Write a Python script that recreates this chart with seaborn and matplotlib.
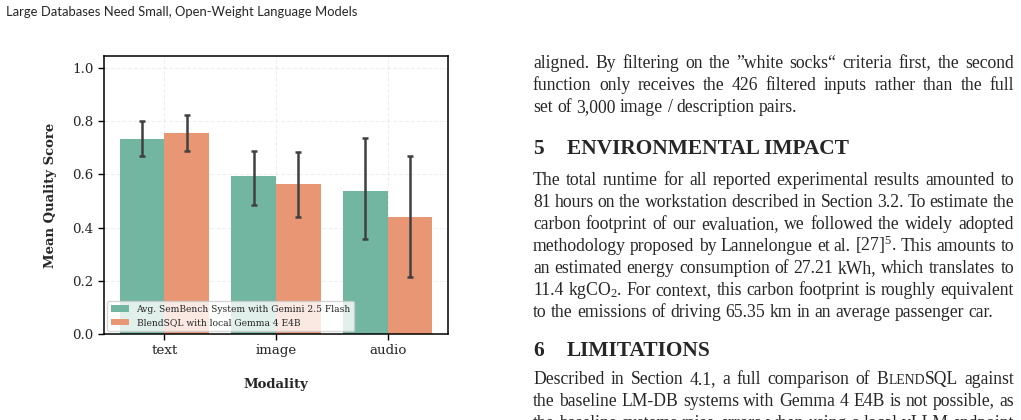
import matplotlib
matplotlib.use("Agg")
import matplotlib.pyplot as plt
import seaborn as sns
import pandas as pd

# chart data
modalities = ["text", "image", "audio"]
systems = ["Avg. SemBench System with Gemini 2.5 Flash", "BlendSQL with local Gemma 4 E4B"]
sembench_mean = [0.734, 0.595, 0.539]
sembench_low = [0.668, 0.485, 0.358]
sembench_high = [0.802, 0.689, 0.736]
blendsql_mean = [0.757, 0.565, 0.441]
blendsql_low = [0.687, 0.439, 0.213]
blendsql_high = [0.823, 0.685, 0.670]

# page text around the figure
header = "Large Databases Need Small, Open-Weight Language Models"
para_1 = [
    "aligned. By filtering on the \u201dwhite socks\u201c criteria first, the second",
    "function only receives the 426 filtered inputs rather than the full",
    "set of 3,000 image / description pairs.",
]
heading_5 = ("5", "ENVIRONMENTAL IMPACT")
para_2 = [
    "The total runtime for all reported experimental results amounted to",
    "81 hours on the workstation described in Section 3.2. To estimate the",
    "carbon footprint of our evaluation, we followed the widely adopted",
    "methodology proposed by Lannelongue et al. [27]$^{5}$. This amounts to",
    "an estimated energy consumption of 27.21 kWh, which translates to",
    "11.4 kgCO$_{2}$. For context, this carbon footprint is roughly equivalent",
    "to the emissions of driving 65.35 km in an average passenger car.",
]
heading_6 = ("6", "LIMITATIONS")
para_3 = [
    "Described in Section 4.1, a full comparison of BLENDSQL against",
    "the baseline LM-DB systems with Gemma 4 E4B is not possible, as",
    "the baseline systems raise errors when using a local vLLM endpoint",
]

W, H = 1021, 420
BODY = "Liberation Serif"
BODY_SIZE = 12.7

sns.set_style("ticks")
plt.rcParams["font.family"] = ["DejaVu Serif"]
plt.rcParams["mathtext.fontset"] = "custom"
plt.rcParams["mathtext.rm"] = BODY
plt.rcParams["mathtext.it"] = BODY + ":italic"
plt.rcParams["mathtext.bf"] = BODY + ":bold"


def fx(px):
    return px / W


def fy(py):
    return 1 - py / H


fig = plt.figure(figsize=(W / 100, H / 100), dpi=100)
rend = fig.canvas.get_renderer()


def text_line(y, line, justify=True, x0=533, x1=1014, size=BODY_SIZE):
    groups = []
    for word in line.split(" "):
        if word == "BLENDSQL":
            pieces = [("B", size), ("LEND", size * 0.78), ("SQL", size)]
        else:
            pieces = [(word, size)]
        arts = [fig.text(0, 0, s, fontsize=fs, family=BODY, va="baseline") for s, fs in pieces]
        groups.append(arts)
    widths = [[a.get_window_extent(rend).width for a in g] for g in groups]
    total = sum(sum(w) for w in widths)
    if justify and len(groups) > 1:
        gap = (x1 - x0 - total) / (len(groups) - 1)
    else:
        gap = size * 0.25 * 100 / 72
    x = x0
    for g, ws in zip(groups, widths):
        for a, w in zip(g, ws):
            a.set_position((fx(x), fy(y)))
            x += w
        x += gap


def heading(y, parts):
    fig.text(fx(533), fy(y), parts[0], fontsize=15.4, weight="bold", family=BODY, va="baseline")
    fig.text(fx(567), fy(y), parts[1], fontsize=15.4, weight="bold", family=BODY, va="baseline")


fig.text(fx(6), fy(12), header, fontsize=9.35, family="Lato", va="center")

for i, line in enumerate(para_1):
    text_line(68 + 22 * i, line, justify=i < len(para_1) - 1)
heading(154, heading_5)
for i, line in enumerate(para_2):
    text_line(185 + 22 * i, line, justify=i < len(para_2) - 1)
heading(356, heading_6)
for i, line in enumerate(para_3):
    text_line(384 + 22 * i, line)

# chart
df = pd.DataFrame({
    "Modality": modalities * 2,
    "System": [systems[0]] * 3 + [systems[1]] * 3,
    "score": sembench_mean + blendsql_mean,
})

ax = fig.add_axes([fx(104), 1 - 334 / H, 344 / W, 278 / H])
sns.barplot(data=df, x="Modality", y="score", hue="System", palette="Set2",
            errorbar=None, ax=ax, zorder=2, linewidth=0)

lows = [sembench_low, blendsql_low]
highs = [sembench_high, blendsql_high]
for cont, lo, hi in zip(ax.containers, lows, highs):
    xs = [b.get_x() + b.get_width() / 2 for b in cont]
    ys = [b.get_height() for b in cont]
    err = [[y - l for y, l in zip(ys, lo)], [h - y for y, h in zip(ys, hi)]]
    ax.errorbar(xs, ys, yerr=err, fmt="none", ecolor="#404040", elinewidth=1.8,
                capsize=2, capthick=1.8, zorder=3)

ax.set_ylim(0, 1.045)
ax.set_ylabel("Mean Quality Score", fontsize=9.5, weight="bold", labelpad=11)
ax.set_xlabel("Modality", fontsize=9.5, weight="bold", labelpad=15)
ax.tick_params(labelsize=9.6, length=4, width=1, color="black")
ax.grid(True, linestyle="--", alpha=0.3, zorder=0)
ax.set_axisbelow(True)
for sp in ax.spines.values():
    sp.set_visible(True)
    sp.set_color("black")
    sp.set_linewidth(1.1)

handles, labels = ax.get_legend_handles_labels()
ax.legend(handles, labels, loc="lower left", fontsize=6.6, title=None,
          borderaxespad=0.35, framealpha=0.8)

fig.savefig("out.png", dpi=100)
